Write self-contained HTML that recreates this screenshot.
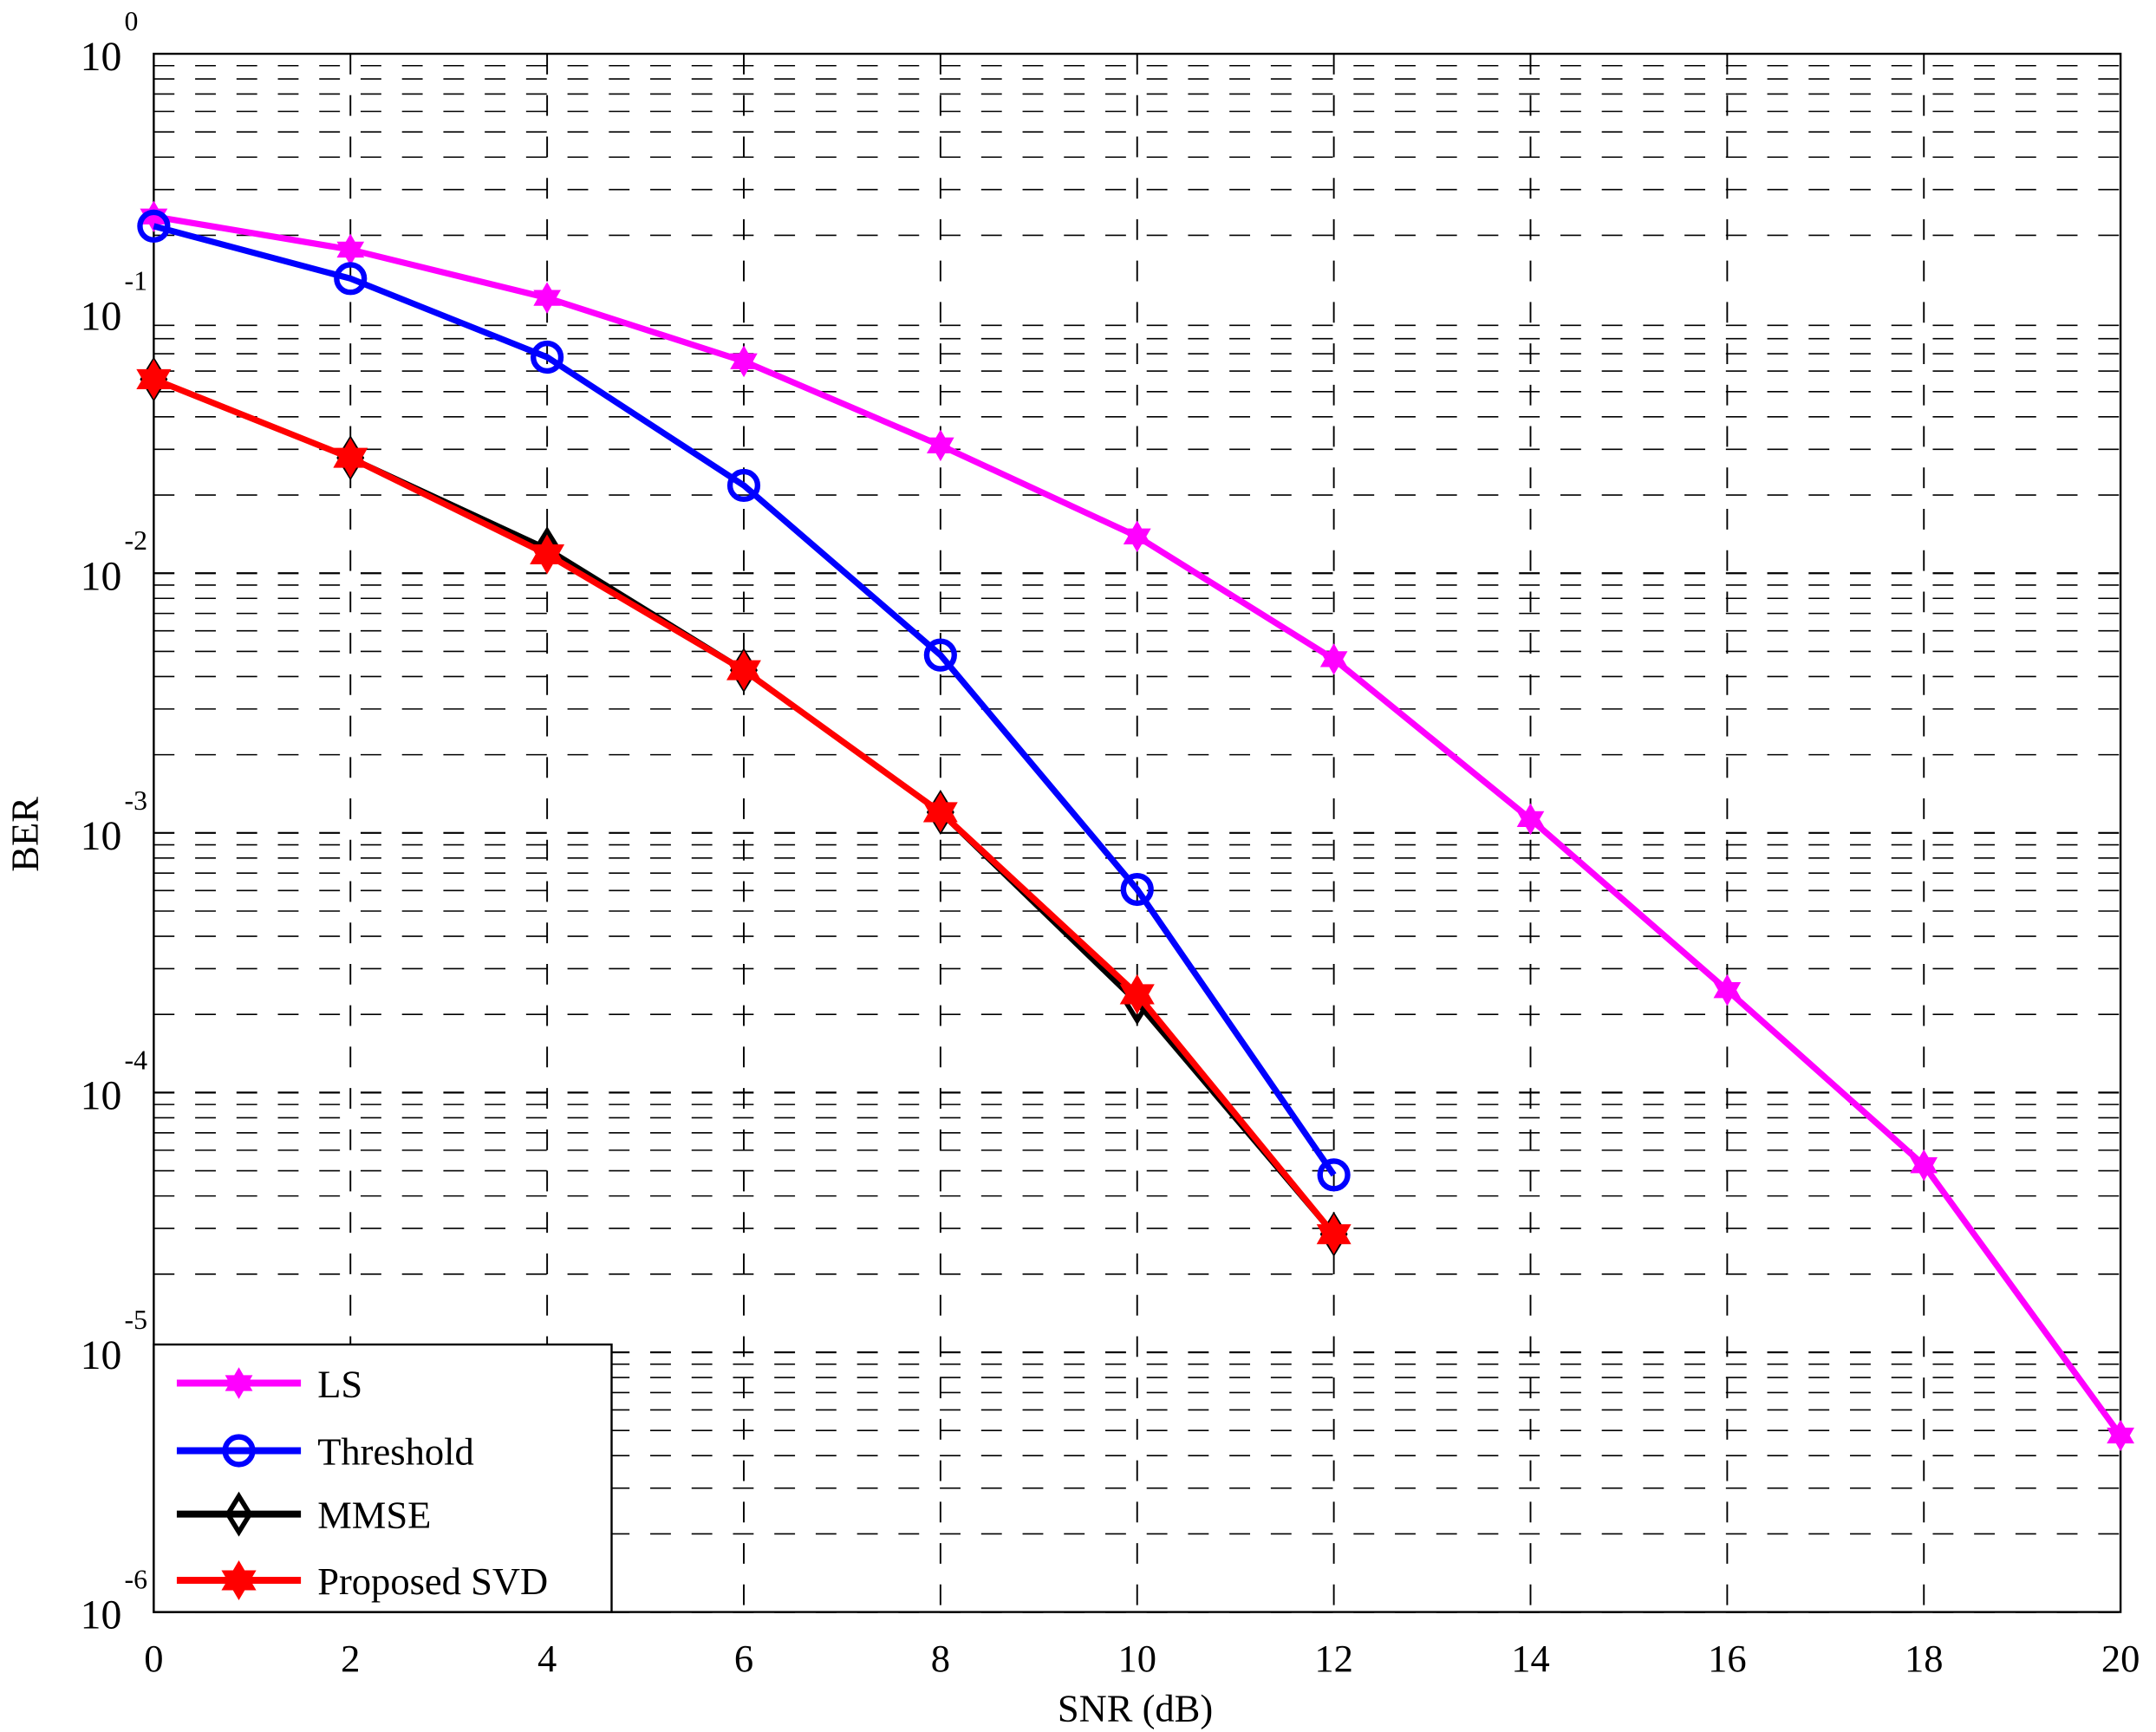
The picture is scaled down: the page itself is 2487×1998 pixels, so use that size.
<!DOCTYPE html>
<html><head><meta charset="utf-8"><style>
html,body{margin:0;padding:0;background:#fff;}
svg{display:block;}
text{font-family:"Liberation Serif",serif;fill:#000;}
</style></head><body>
<svg id="s" width="2487" height="1998" viewBox="0 0 1563 1256" xmlns="http://www.w3.org/2000/svg"></svg>
<script>
const L=111.3,R=1537.5,T=39,B=1169,D=(B-T)/6;
const X=v=>L+(R-L)*v/20, Y=v=>T-Math.log10(v)*D;
let s='';
// grid
for(let i=1;i<10;i++){let x=X(2*i);s+=`<line x1="${x}" y1="${T}" x2="${x}" y2="${B}" stroke="#000" stroke-width="1.2" stroke-dasharray="15,15"/>`;}
for(let d=0;d<6;d++){for(let m=1;m<=9;m++){if(d==0&&m==1)continue;let y=Y(m*Math.pow(10,-d-1));s+=`<line x1="${L}" y1="${y}" x2="${R}" y2="${y}" stroke="#000" stroke-width="${m==1?1.4:1}" stroke-dasharray="15,15"/>`;}}
s+=`<rect x="${L}" y="${T}" width="${R-L}" height="${B-T}" fill="none" stroke="#000" stroke-width="1.5"/>`;
// tick labels
for(let d=0;d<=6;d++){let y=T+d*D;s+=`<text x="88" y="${y+12}" font-size="30" text-anchor="end">10</text><text x="90" y="${y-17}" font-size="20">${d?'-'+d:'0'}</text>`;}
for(let i=0;i<=10;i++){s+=`<text x="${X(2*i)}" y="1212" font-size="28" text-anchor="middle">${2*i}</text>`;}
s+=`<text x="823" y="1248" font-size="28" text-anchor="middle">SNR (dB)</text>`;
s+=`<text transform="translate(27,605) rotate(-90)" font-size="28" text-anchor="middle">BER</text>`;
// data in displayed y coords
const xs=[0,2,4,6,8,10,12,14,16,18,20];
const LS=[157,181,216,262,323,389,478,594,718,845,1041];
const TH=[164,202,259,352,475,645,852];
const MM=[275,332,398,486,589,727,895];
const SV=[275,332,402,486,589,721,895];
function star(x,y,r,c){let p=[];for(let k=0;k<12;k++){let a=Math.PI/6*k-Math.PI/2,rr=k%2?r*0.58:r;p.push((x+rr*Math.cos(a)).toFixed(1)+','+(y+rr*Math.sin(a)).toFixed(1));}return `<polygon points="${p.join(' ')}" fill="${c}" stroke="${c}" stroke-width="1.5"/>`;}
function mk(t,x,y){if(t=='ls')return star(x,y,10,'#f0f');if(t=='th')return `<circle cx="${x}" cy="${y}" r="10" fill="none" stroke="#00f" stroke-width="4"/>`;if(t=='mm')return `<polygon points="${x},${y-13} ${x+8},${y} ${x},${y+13} ${x-8},${y}" fill="none" stroke="#000" stroke-width="3.5"/>`;return star(x,y,13,'#f00');}
function ser(ys,c,t,w){let pts=ys.map((y,i)=>X(xs[i])+','+y).join(' ');let o=`<polyline points="${pts}" fill="none" stroke="${c}" stroke-width="${w}" stroke-linejoin="round"/>`;ys.forEach((y,i)=>o+=mk(t,X(xs[i]),y));return o;}
s+=ser(LS,'#f0f','ls',4.5)+ser(TH,'#00f','th',4.5)+ser(MM,'#000','mm',4)+ser(SV,'#f00','sv',4.5);
// legend
s+=`<rect x="${L}" y="975" width="332" height="${B-975}" fill="#fff" stroke="#000" stroke-width="1.5"/>`;
const lg=[['LS','#f0f','ls',1003],['Threshold','#00f','th',1052],['MMSE','#000','mm',1098],['Proposed SVD','#f00','sv',1146]];
lg.forEach(([n,c,t,y])=>{s+=`<line x1="128" y1="${y}" x2="218" y2="${y}" stroke="${c}" stroke-width="5"/>`+mk(t,173,y)+`<text x="230" y="${y+10}" font-size="28">${n}</text>`;});
document.getElementById('s').innerHTML=s;
</script>
</body></html>
